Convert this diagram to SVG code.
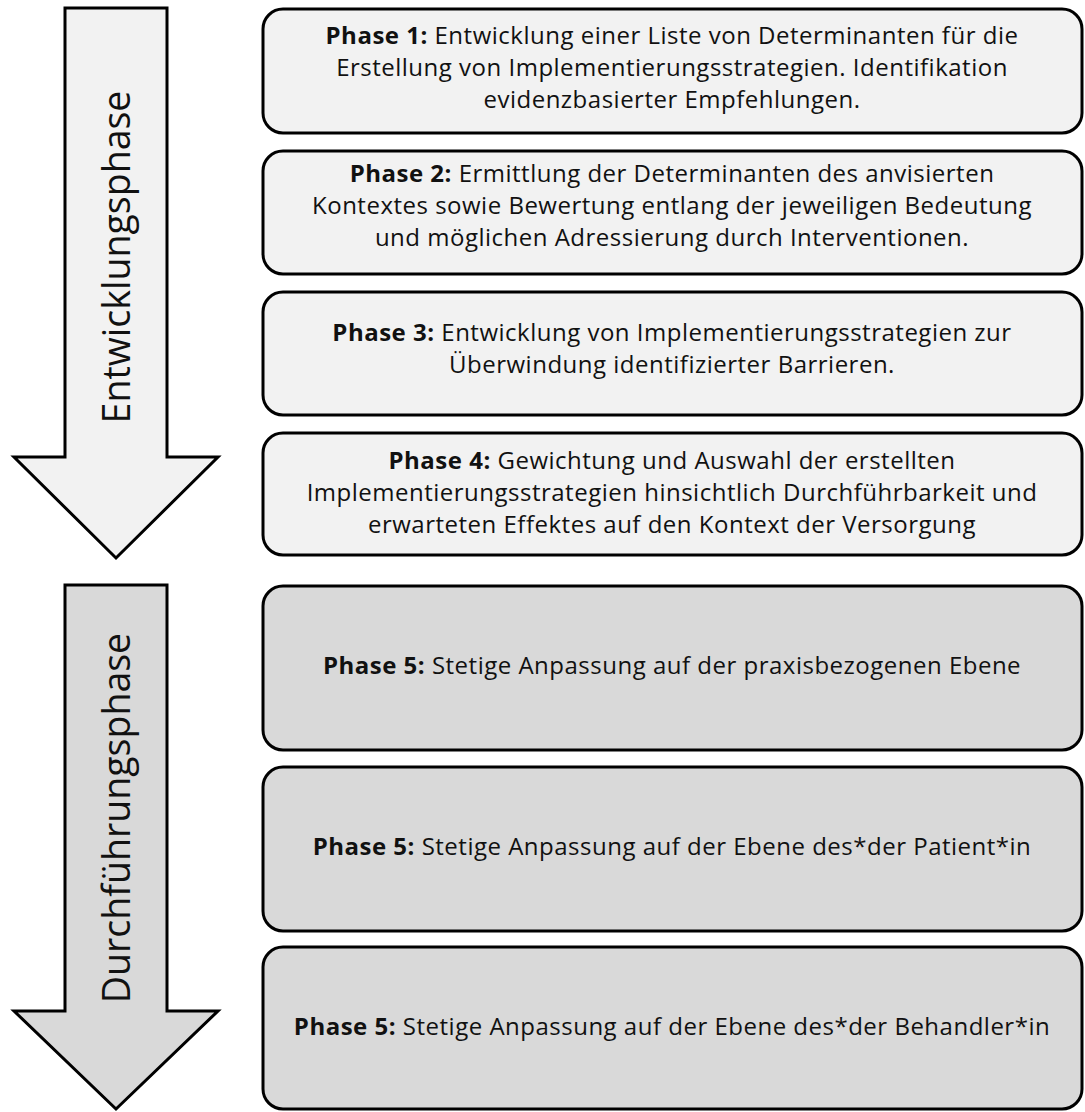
<svg xmlns="http://www.w3.org/2000/svg" width="1085" height="1112" viewBox="0 0 1085 1112">
  <style>
    .arrow { stroke: #000; stroke-width: 3; stroke-linejoin: miter; }
    .dev { fill: #f2f2f2; }
    .run { fill: #d9d9d9; }
    .box { stroke: #000; stroke-width: 3; }
    .label { font-family: "Open Sans", "Lato", "Liberation Sans", sans-serif; font-size: 24px; letter-spacing: 0.5px; fill: #111; text-anchor: middle; }
    .side { font-family: "Open Sans", "Lato", "Liberation Sans", sans-serif; font-size: 37.5px; fill: #111; text-anchor: middle; }
    .b { font-weight: bold; }
  </style>

  <!-- Phase arrows on the left -->
  <g id="arrow-entwicklung">
    <polygon class="arrow dev" points="65,8 167,8 167,457 218,457 116,558 14,457 65,457"/>
    <text class="side" transform="translate(130,257) rotate(-90)">Entwicklungsphase</text>
  </g>
  <g id="arrow-durchfuehrung">
    <polygon class="arrow run" points="65,585 167,585 167,1011 218,1011 116,1109 14,1011 65,1011"/>
    <text class="side" transform="translate(130,818) rotate(-90)">Durchführungsphase</text>
  </g>

  <!-- Phase boxes -->
  <g id="phase1">
    <rect class="box dev" x="263" y="9" width="819" height="124" rx="20" ry="20"/>
    <text class="label" x="672" y="44"><tspan class="b">Phase 1:</tspan> Entwicklung einer Liste von Determinanten für die</text>
    <text class="label" x="672" y="76">Erstellung von Implementierungsstrategien. Identifikation</text>
    <text class="label" x="672" y="108">evidenzbasierter Empfehlungen.</text>
  </g>
  <g id="phase2">
    <rect class="box dev" x="263" y="151" width="819" height="123" rx="20" ry="20"/>
    <text class="label" x="672" y="182"><tspan class="b">Phase 2:</tspan> Ermittlung der Determinanten des anvisierten</text>
    <text class="label" x="672" y="214">Kontextes sowie Bewertung entlang der jeweiligen Bedeutung</text>
    <text class="label" x="672" y="246">und möglichen Adressierung durch Interventionen.</text>
  </g>
  <g id="phase3">
    <rect class="box dev" x="263" y="292" width="819" height="123" rx="20" ry="20"/>
    <text class="label" x="672" y="341"><tspan class="b">Phase 3:</tspan> Entwicklung von Implementierungsstrategien zur</text>
    <text class="label" x="672" y="373">Überwindung identifizierter Barrieren.</text>
  </g>
  <g id="phase4">
    <rect class="box dev" x="263" y="433" width="819" height="122" rx="20" ry="20"/>
    <text class="label" x="672" y="469"><tspan class="b">Phase 4:</tspan> Gewichtung und Auswahl der erstellten</text>
    <text class="label" x="672" y="501">Implementierungsstrategien hinsichtlich Durchführbarkeit und</text>
    <text class="label" x="672" y="533">erwarteten Effektes auf den Kontext der Versorgung</text>
  </g>
  <g id="phase5-praxis">
    <rect class="box run" x="263" y="586" width="819" height="164" rx="20" ry="20"/>
    <text class="label" x="672" y="674"><tspan class="b">Phase 5:</tspan> Stetige Anpassung auf der praxisbezogenen Ebene</text>
  </g>
  <g id="phase5-patient">
    <rect class="box run" x="263" y="767" width="819" height="164" rx="20" ry="20"/>
    <text class="label" x="672" y="855"><tspan class="b">Phase 5:</tspan> Stetige Anpassung auf der Ebene des*der Patient*in</text>
  </g>
  <g id="phase5-behandler">
    <rect class="box run" x="263" y="947" width="819" height="162" rx="20" ry="20"/>
    <text class="label" x="672" y="1035"><tspan class="b">Phase 5:</tspan> Stetige Anpassung auf der Ebene des*der Behandler*in</text>
  </g>

  <!-- no connectors: the phases are stacked boxes beside the arrows -->
  <g id="connectors"/>
</svg>
